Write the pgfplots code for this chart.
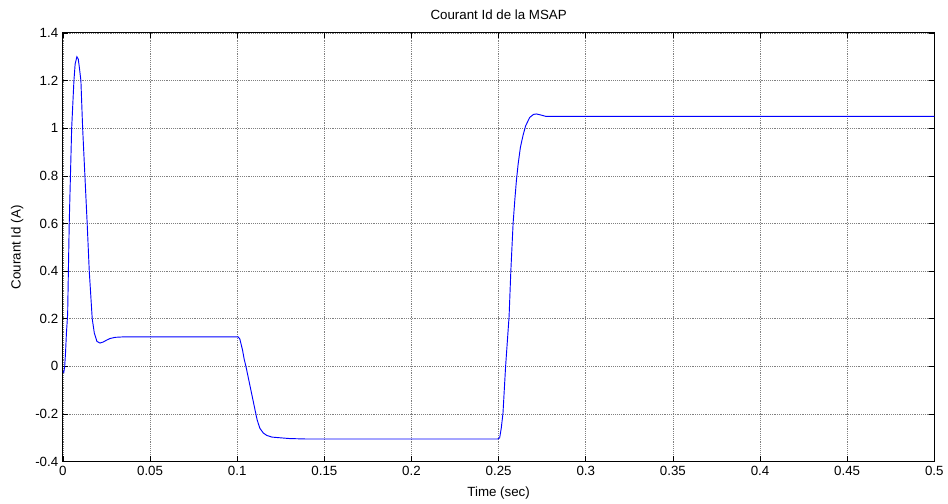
\documentclass[border=0pt]{standalone}
\usepackage{fontspec}
\setmainfont{Liberation Sans}
\usepackage{pgfplots}
\pgfplotsset{compat=1.18}
\begin{document}
\begin{tikzpicture}
\begin{axis}[
    scale only axis,
    width=654pt, height=321.75pt,
    xmin=0, xmax=0.5, ymin=-0.4, ymax=1.4,
    xtick={0,0.05,...,0.5},
    ytick={-0.4,-0.2,0,0.2,0.4,0.6,0.8,1,1.2,1.4},
    scaled ticks=false,
    /pgf/number format/.cd, fixed, precision=2, assume math mode=true, /pgfplots/.cd,
    tick align=inside,
    major tick length=4pt,
    xtick pos=both, ytick pos=both,
    tick style={black, line width=0.5pt},
    axis line style={black, line width=0.7pt},
    grid=major,
    grid style={densely dotted, black!50, line width=0.5pt},
    title={Courant Id de la MSAP},
    title style={font=\fontsize{10}{12}\selectfont, yshift=0.5pt},
    xlabel={Time (sec)},
    ylabel={Courant Id (A)},
    xlabel style={font=\fontsize{10}{12}\selectfont, yshift=-1.5pt},
    ylabel style={font=\fontsize{10}{12}\selectfont, yshift=2pt},
    ticklabel style={font=\fontsize{10}{12}\selectfont},
]
\addplot[blue, line width=0.7pt] coordinates {
(0,-0.02) (0.0005,-0.025) (0.001,0.0) (0.0015,0.06) (0.002,0.14) (0.0027,0.22)
(0.003,0.35) (0.0036,0.6) (0.0043,0.8) (0.005,1.0) (0.0063,1.2) (0.007,1.27)
(0.008,1.30) (0.0088,1.29) (0.0095,1.25) (0.0103,1.2) (0.0113,1.0) (0.0126,0.8)
(0.0139,0.6) (0.0151,0.4) (0.0168,0.2) (0.018,0.14) (0.0195,0.105) (0.0212,0.098)
(0.023,0.102) (0.025,0.11) (0.027,0.117) (0.030,0.122) (0.035,0.124) (0.1005,0.124)
(0.1015,0.115) (0.102,0.10) (0.103,0.07) (0.104,0.03) (0.105,0.0) (0.107,-0.07)
(0.109,-0.14) (0.1114,-0.224) (0.113,-0.26) (0.115,-0.28) (0.117,-0.29) (0.12,-0.297)
(0.125,-0.300) (0.13,-0.303) (0.14,-0.305) (0.2495,-0.305)
(0.2506,-0.30) (0.2515,-0.26) (0.2525,-0.196) (0.254,0.0) (0.256,0.21) (0.257,0.40)
(0.2583,0.60) (0.2593,0.70) (0.2602,0.78) (0.2612,0.85) (0.2625,0.92) (0.264,0.97)
(0.2655,1.01) (0.2678,1.045) (0.2700,1.058) (0.2716,1.06) (0.274,1.056) (0.277,1.05) (0.5,1.05)
};
\end{axis}
\path ([shift={(-47.25pt,-30pt)}]current axis.south west) rectangle ([shift={(9.75pt,24.75pt)}]current axis.north east);
\end{tikzpicture}
\end{document}
